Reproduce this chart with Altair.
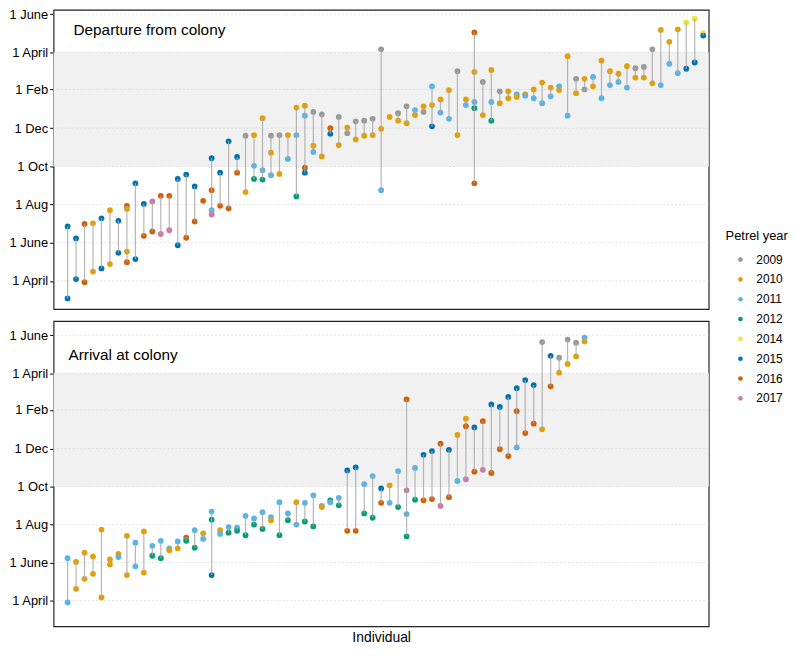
import altair as alt
import pandas as pd

FONT = "Liberation Sans"

years = ["2009", "2010", "2011", "2012", "2014", "2015", "2016", "2017"]
year_colors = ["#999999", "#E69F00", "#56B4E9", "#009E73", "#F0E442", "#0072B2", "#D55E00", "#CC79A7"]

# y axis: days after 1 April of the first year
tick_days = [0, 61, 122, 183, 244, 306, 365, 426]
tick_labels = ["1 April", "1 June", "1 Aug", "1 Oct", "1 Dec", "1 Feb", "1 April", "1 June"]
shade_from, shade_to = 183, 365  # 1 Oct to 1 April

# Departure from colony: per individual, petrel years and days
dep_years = [
    [2015, 2015], [2015, 2015], [2016, 2016], [2010, 2010], [2015, 2015], [2010, 2010],
    [2015, 2015], [2016, 2010, 2010, 2016], [2015, 2015], [2015, 2016], [2017, 2016],
    [2016, 2017], [2016, 2017], [2015, 2015], [2015, 2016], [2015, 2016], [2016],
    [2015, 2016, 2011, 2017], [2015, 2016], [2015, 2016], [2015, 2016], [2009, 2010],
    [2010, 2011, 2012], [2010, 2011, 2012], [2009, 2010, 2011], [2009, 2010], [2010, 2011],
    [2010, 2011, 2012], [2010, 2011, 2016, 2015], [2009, 2010, 2011], [2009, 2010],
    [2016, 2015], [2009, 2010], [2010, 2009], [2009, 2010], [2009, 2010], [2009, 2010],
    [2009, 2010, 2011], [2010], [2009, 2010], [2009, 2010], [2011, 2010], [2010, 2009],
    [2011, 2010, 2015], [2010, 2011], [2010, 2011], [2009, 2010], [2010, 2011],
    [2016, 2010, 2011, 2012, 2016], [2009, 2010], [2010, 2011, 2012], [2009, 2010],
    [2010, 2010], [2011, 2010], [2010, 2011], [2010, 2011], [2010, 2011], [2010, 2011],
    [2011, 2010], [2010, 2011], [2009, 2010], [2010, 2009], [2011, 2010], [2010, 2011],
    [2010, 2011], [2010, 2011], [2010, 2011], [2009, 2010], [2009, 2010], [2009, 2010],
    [2010, 2011], [2010, 2011], [2010, 2011], [2014, 2015], [2014, 2015], [2014, 2015],
]
dep_days = [
    [87, -28], [68, 3], [91, -2], [92, 15], [100, 20], [113, 27],
    [96, 45], [120, 115, 47, 30], [156, 35], [123, 72], [127, 79],
    [136, 75], [136, 81], [163, 57], [170, 69], [151, 95], [128],
    [196, 145, 113, 106], [173, 120], [223, 116], [198, 173], [232, 142],
    [233, 184, 163], [260, 177, 162], [232, 205, 169], [233, 171], [233, 195],
    [277, 233, 135], [280, 264, 181, 173], [270, 216, 206], [266, 199],
    [244, 235], [262, 217], [245, 236], [255, 226], [256, 232], [259, 233],
    [370, 243, 145], [262], [268, 256], [279, 252], [273, 265], [279, 270],
    [311, 281, 247], [290, 269], [305, 259], [335, 233], [290, 281],
    [397, 334, 286, 276, 156], [318, 265], [337, 286, 256], [303, 284],
    [303, 292], [298, 294], [298, 296], [306, 292], [317, 284], [309, 295],
    [311, 305], [359, 264], [323, 300], [323, 306], [326, 311], [352, 292],
    [335, 313], [331, 318], [343, 309], [340, 325], [342, 325], [370, 316],
    [401, 313], [382, 347], [402, 332], [413, 339], [419, 349], [396, 392],
]

# Arrival at colony
arr_years = [
    [2011, 2011], [2010, 2010], [2010, 2010], [2010, 2010], [2010, 2010], [2010, 2010],
    [2010, 2011], [2010, 2010], [2011, 2011], [2010, 2010], [2011, 2012], [2011, 2012],
    [2011, 2010], [2011, 2010], [2016, 2011, 2012], [2011, 2012], [2010, 2011],
    [2011, 2012, 2015], [2010, 2011], [2011, 2012], [2011, 2012], [2011, 2012],
    [2011, 2012], [2011, 2012], [2011, 2010], [2011, 2012], [2011, 2012], [2010, 2011],
    [2011, 2012], [2011, 2012], [2011, 2010], [2012, 2011], [2011, 2012], [2015, 2016],
    [2015, 2016], [2011, 2012], [2011, 2012], [2015, 2016], [2010, 2011], [2011, 2012],
    [2016, 2017, 2011, 2012], [2011, 2012], [2015, 2016], [2015, 2016], [2016, 2017],
    [2015, 2016], [2010, 2011], [2010, 2016, 2017], [2015, 2016], [2016, 2017],
    [2015, 2016], [2015, 2016], [2015, 2016], [2015, 2016, 2011], [2015, 2016],
    [2015, 2016], [2009, 2010], [2015, 2016], [2009, 2010], [2009, 2010], [2009, 2010],
    [2011, 2010],
]
arr_days = [
    [68, -3], [62, 19], [77, 35], [71, 43], [114, 5], [66, 58],
    [75, 70], [104, 41], [93, 55], [111, 45], [88, 72], [96, 68],
    [84, 81], [95, 84], [101, 97, 96], [113, 85], [108, 99],
    [143, 130, 41], [113, 107], [118, 109], [117, 112], [136, 105],
    [132, 122], [142, 115], [134, 129], [158, 105], [140, 129], [158, 122],
    [157, 127], [169, 119], [152, 150], [161, 158], [165, 153], [209, 112],
    [214, 112], [187, 140], [200, 133], [180, 157], [185, 157], [208, 150],
    [323, 177, 139, 103], [213, 162], [234, 161], [240, 163], [252, 152],
    [242, 166], [266, 192], [292, 280, 195], [278, 207], [288, 210],
    [315, 205], [311, 243], [327, 232], [341, 304, 246], [354, 269],
    [346, 284], [415, 275], [393, 344], [390, 366], [419, 380], [414, 392],
    [422, 416],
]

W = 661
X_DOMAIN = [-1.65, 75.65]


def to_frames(yrs, dys):
    pts, segs = [], []
    for i, (ys, ds) in enumerate(zip(yrs, dys)):
        for y, d in zip(ys, ds):
            pts.append({"ind": i, "year": str(y), "day": d})
        segs.append({"ind": i, "lo": min(ds), "hi": max(ds)})
    return pd.DataFrame(pts), pd.DataFrame(segs)


label_expr = ""
for v, lab in zip(tick_days, tick_labels):
    label_expr += f"datum.value == {v} ? '{lab}' : "
label_expr += "''"


def panel(yrs, dys, title, y_domain, height, tx, ty, bottom):
    pts, segs = to_frames(yrs, dys)
    yscale = alt.Scale(domain=y_domain, nice=False, zero=False)
    xscale = alt.Scale(domain=X_DOMAIN, nice=False, zero=False)
    if bottom:
        xaxis = alt.Axis(title="Individual", labels=False, ticks=False, domain=False,
                         grid=False, titleFontSize=14, titleFontWeight="normal",
                         titlePadding=4, titleColor="black", titleFont=FONT)
    else:
        xaxis = None
    yaxis = alt.Axis(values=tick_days, labelExpr=label_expr, title=None, grid=False,
                     domain=False, tickSize=4, tickColor="black", labelColor="black",
                     labelFontSize=13, labelPadding=2, labelFont=FONT, tickWidth=1)

    shade = alt.Chart(pd.DataFrame({"lo": [shade_from], "hi": [shade_to]})).mark_rect(
        color="#F1F1F1"
    ).encode(
        x=alt.value(0), x2=alt.value(W),
        y=alt.Y("lo:Q", scale=yscale, axis=yaxis), y2="hi:Q",
    )
    grid = alt.Chart(pd.DataFrame({"day": tick_days})).mark_rule(
        color="#D6D6D6", strokeDash=[2, 2], strokeWidth=0.7
    ).encode(y=alt.Y("day:Q", scale=yscale, axis=yaxis))
    points = alt.Chart(pts).mark_circle(size=34, opacity=1).encode(
        x=alt.X("ind:Q", scale=xscale, axis=xaxis),
        y=alt.Y("day:Q", scale=yscale, axis=yaxis),
        color=alt.Color("year:N", scale=alt.Scale(domain=years, range=year_colors),
                        legend=alt.Legend(title="Petrel year", orient="none",
                                          legendX=678, legendY=222)),
    )
    lines = alt.Chart(segs).mark_rule(color="#A8A8A8", strokeWidth=1.2, opacity=0.85).encode(
        x=alt.X("ind:Q", scale=xscale, axis=xaxis),
        y=alt.Y("lo:Q", scale=yscale, axis=yaxis),
        y2="hi:Q",
    )
    text = alt.Chart(pd.DataFrame({"t": [title]})).mark_text(
        align="left", baseline="middle", fontSize=15.5, font=FONT, color="black"
    ).encode(x=alt.value(tx), y=alt.value(ty), text="t:N")
    return alt.layer(shade, grid, points, lines, text).properties(width=W, height=height)


top = panel(dep_years, dep_days, "Departure from colony", [-45.1, 433.1], 302, 20, 20, False)
bottom = panel(arr_years, arr_days, "Arrival at colony", [-41.3, 448.8], 308, 15, 34.3, True)

chart = alt.vconcat(top, bottom, spacing=10).resolve_scale(
    y="independent", x="shared", color="shared"
).configure(
    font=FONT, padding={"left": 0, "top": -4, "right": 0, "bottom": 0},
).configure_view(
    stroke="#222222", strokeWidth=1.2
).configure_legend(
    titleFontSize=13, titleFontWeight="normal", titleColor="black", titleFont=FONT,
    labelFontSize=12, labelColor="black", labelFont=FONT, symbolType="circle",
    symbolSize=22, symbolStrokeWidth=0, rowPadding=8, titlePadding=11,
    labelOffset=10, symbolOffset=9, padding=0,
)

chart.save("out.html", embed_options={"renderer": "svg", "actions": False})
